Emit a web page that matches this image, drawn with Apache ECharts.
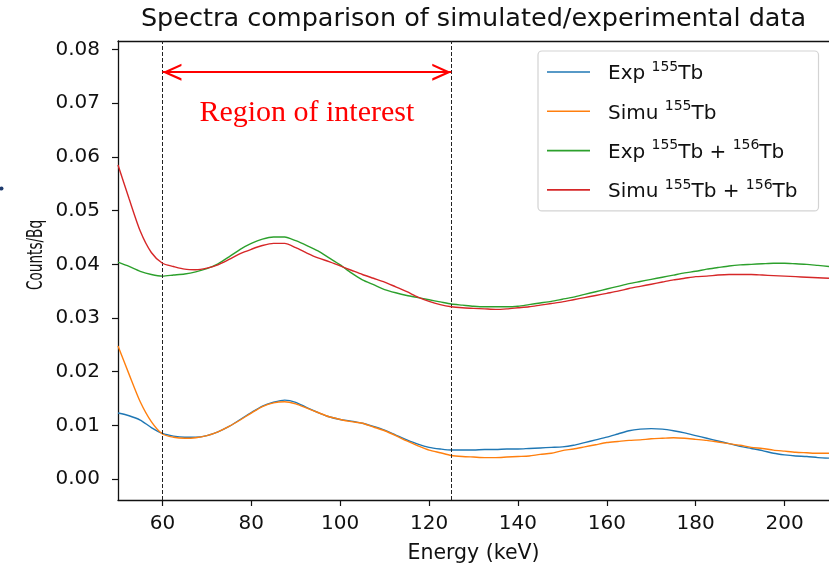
<!DOCTYPE html>
<html>
<head>
<meta charset="utf-8">
<script src="https://cdn.jsdelivr.net/npm/echarts@6/dist/echarts.min.js"></script>
<style>
  html, body { margin: 0; padding: 0; background: #ffffff; }
  #chart { width: 829px; height: 569px; }
</style>
</head>
<body>
<div id="chart"></div>
<script>
// Energy grid (keV) shared by all four spectra
const energy = [
  50, 52.5, 55, 57.5, 60, 62.5, 65, 67.5, 70, 72.5,
  75, 77.5, 80, 82.5, 85, 87.5, 90, 92.5, 95, 97.5,
  100, 102.5, 105, 107.5, 110, 112.5, 115, 117.5, 120, 122.5,
  125, 127.5, 130, 132.5, 135, 137.5, 140, 142.5, 145, 147.5,
  150, 152.5, 155, 157.5, 160, 162.5, 165, 167.5, 170, 172.5,
  175, 177.5, 180, 182.5, 185, 187.5, 190, 192.5, 195, 197.5,
  200, 202.5, 205, 207.5, 210
];

// Counts/Bq per spectrum
const expTb155 = [
  0.0123, 0.0118, 0.0110, 0.0096, 0.0085, 0.0080, 0.0078, 0.0078, 0.0081, 0.0088,
  0.0098, 0.0111, 0.0124, 0.0136, 0.0143, 0.0147, 0.0143, 0.0133, 0.0124, 0.0116,
  0.0111, 0.0108, 0.0104, 0.0098, 0.0091, 0.0082, 0.0073, 0.0065, 0.0059, 0.0056,
  0.0054, 0.0054, 0.0054, 0.0055, 0.0055, 0.0056, 0.0056, 0.0057, 0.0058, 0.0059,
  0.0060, 0.0063, 0.0068, 0.0073, 0.0078, 0.0084, 0.0090, 0.0093, 0.0094, 0.0093,
  0.0090, 0.0086, 0.0081, 0.0076, 0.0071, 0.0066, 0.0061, 0.0057, 0.0053, 0.0048,
  0.0045, 0.0043, 0.0042, 0.0040, 0.0039
];
const simuTb155 = [
  0.0248, 0.0195, 0.0144, 0.0107, 0.0084, 0.0078, 0.0076, 0.0077, 0.0081, 0.0088,
  0.0098, 0.0110, 0.0123, 0.0135, 0.0142, 0.0144, 0.0140, 0.0132, 0.0124, 0.0116,
  0.0111, 0.0107, 0.0104, 0.0097, 0.0090, 0.0081, 0.0071, 0.0062, 0.0054, 0.0049,
  0.0044, 0.0042, 0.0041, 0.0040, 0.0040, 0.0041, 0.0042, 0.0043, 0.0046, 0.0048,
  0.0053, 0.0056, 0.0060, 0.0064, 0.0068, 0.0070, 0.0072, 0.0073, 0.0075, 0.0076,
  0.0077, 0.0076, 0.0074, 0.0072, 0.0069, 0.0066, 0.0063, 0.0059, 0.0057, 0.0054,
  0.0052, 0.0050, 0.0049, 0.0048, 0.0048
];
const expTb155Tb156 = [
  0.0404, 0.0396, 0.0387, 0.0381, 0.0378, 0.0380, 0.0382, 0.0386, 0.0392, 0.0401,
  0.0414, 0.0428, 0.0439, 0.0447, 0.0451, 0.0451, 0.0444, 0.0435, 0.0425, 0.0412,
  0.0399, 0.0384, 0.0371, 0.0362, 0.0353, 0.0347, 0.0342, 0.0338, 0.0334, 0.0330,
  0.0326, 0.0324, 0.0322, 0.0321, 0.0321, 0.0321, 0.0322, 0.0325, 0.0328, 0.0331,
  0.0335, 0.0339, 0.0344, 0.0349, 0.0354, 0.0359, 0.0364, 0.0368, 0.0372, 0.0376,
  0.0380, 0.0384, 0.0387, 0.0391, 0.0394, 0.0397, 0.0399, 0.0400, 0.0401, 0.0402,
  0.0402, 0.0401, 0.0400, 0.0398, 0.0396
];
const simuTb155Tb156 = [
  0.0585, 0.0522, 0.0462, 0.0422, 0.0402, 0.0396, 0.0391, 0.0390, 0.0393, 0.0399,
  0.0409, 0.0420, 0.0428, 0.0435, 0.0439, 0.0439, 0.0431, 0.0421, 0.0412, 0.0405,
  0.0397, 0.0389, 0.0381, 0.0374, 0.0367, 0.0358, 0.0349, 0.0339, 0.0331, 0.0325,
  0.0321, 0.0319, 0.0318, 0.0317, 0.0316, 0.0317, 0.0319, 0.0321, 0.0324, 0.0327,
  0.0330, 0.0334, 0.0338, 0.0342, 0.0346, 0.0350, 0.0355, 0.0359, 0.0363, 0.0367,
  0.0371, 0.0374, 0.0377, 0.0378, 0.0380, 0.0381, 0.0381, 0.0381, 0.0380, 0.0379,
  0.0378, 0.0377, 0.0376, 0.0375, 0.0374
];

// Series names; "^nnn" marks a superscript mass number
const seriesNames = ['Exp ^155Tb', 'Simu ^155Tb', 'Exp ^155Tb + ^156Tb', 'Simu ^155Tb + ^156Tb'];

// Tick labels
const xTicks = [60, 80, 100, 120, 140, 160, 180, 200];
const yTicks = [0.00, 0.01, 0.02, 0.03, 0.04, 0.05, 0.06, 0.07, 0.08];

// Region of interest bounds (keV)
const roiBounds = [60, 125];

const FONT = 'DejaVu Sans';
const X_RANGE = [50, 210];
const Y_RANGE = [-0.0039, 0.0816];
const ARROW_LEVEL = 0.0758;
const ROI_TEXT_LEVEL = 0.0681;
const colors = ['#1f77b4', '#ff7f0e', '#2ca02c', '#d62728'];
const spectra = [expTb155, simuTb155, expTb155Tb156, simuTb155Tb156];

function richName(name) {
  return '{g| }{n|' + name.replace(/\^(\d+)/g, '}{s|$1}{n|') + '}';
}

const chart = echarts.init(document.getElementById('chart'), null, { renderer: 'canvas' });

const lineSeries = spectra.map((values, k) => ({
  type: 'line',
  name: seriesNames[k],
  data: energy.map((e, i) => [e, values[i]]),
  showSymbol: false,
  symbol: 'none',
  smooth: 0.25,
  lineStyle: { color: colors[k], width: 1.4 },
  itemStyle: { color: colors[k] },
  silent: true,
  z: 2 + k
}));

// open arrow head, tip at the top of the symbol box
const chevron = 'path://M50,0 L100,90 L86,90 L50,25 L14,90 L0,90 Z';

const option = {
  animation: false,
  backgroundColor: '#ffffff',
  title: {
    text: 'Spectra comparison of simulated/experimental data',
    left: 473.5,
    textAlign: 'center',
    top: 6,
    padding: 0,
    textStyle: { fontFamily: FONT, fontSize: 25.5, fontWeight: 'normal', color: '#111' }
  },
  grid: { left: 118, right: 0, top: 41, bottom: 66, containLabel: false },
  legend: {
    data: seriesNames.map((n, k) => ({ name: n, icon: 'rect', itemStyle: { color: colors[k] } })),
    orient: 'vertical',
    left: 538,
    top: 51,
    padding: [9, 21, 9, 9],
    itemWidth: 43,
    itemHeight: 1.6,
    itemGap: 15.3,
    selectedMode: false,
    backgroundColor: 'rgba(255,255,255,0.85)',
    borderColor: '#d3d3d3',
    borderWidth: 1.2,
    borderRadius: 4,
    formatter: richName,
    textStyle: {
      color: '#111',
      rich: {
        g: { width: 13, fontSize: 20, lineHeight: 24 },
        n: { fontFamily: FONT, fontSize: 20, lineHeight: 24, verticalAlign: 'bottom', color: '#111' },
        s: { fontFamily: FONT, fontSize: 14, lineHeight: 14, verticalAlign: 'top', color: '#111' }
      }
    }
  },
  xAxis: [{
    type: 'value',
    min: X_RANGE[0],
    max: X_RANGE[1],
    name: 'Energy (keV)',
    nameLocation: 'middle',
    nameGap: 43,
    nameTextStyle: { fontFamily: FONT, fontSize: 20.5, color: '#111' },
    axisLine: { show: true, onZero: false, lineStyle: { color: '#111', width: 1.3 } },
    axisTick: { show: true, length: 6, customValues: xTicks, lineStyle: { color: '#111', width: 1.2 } },
    axisLabel: { customValues: xTicks, margin: 14, fontFamily: FONT, fontSize: 20, color: '#111' },
    splitLine: { show: false }
  }, {
    type: 'value',
    position: 'top',
    min: X_RANGE[0],
    max: X_RANGE[1],
    axisLine: { show: true, onZero: false, lineStyle: { color: '#111', width: 1.3 } },
    axisTick: { show: false },
    axisLabel: { show: false },
    splitLine: { show: false }
  }],
  yAxis: {
    type: 'value',
    min: Y_RANGE[0],
    max: Y_RANGE[1],
    axisLine: { show: true, onZero: false, lineStyle: { color: '#111', width: 1.3 } },
    axisTick: { show: true, length: 6, customValues: yTicks, lineStyle: { color: '#111', width: 1.2 } },
    axisLabel: {
      customValues: yTicks,
      margin: 18,
      fontFamily: FONT,
      fontSize: 20,
      color: '#111',
      formatter: (v) => v.toFixed(2)
    },
    splitLine: { show: false }
  },
  graphic: [
    {
      type: 'text',
      x: 36,
      y: 255,
      rotation: Math.PI / 2,
      scaleX: 0.62,
      style: {
        text: 'Counts/Bq',
        fontFamily: FONT,
        fontSize: 22,
        fill: '#111',
        align: 'center',
        verticalAlign: 'middle'
      }
    },
    {
      type: 'circle',
      shape: { cx: 1.5, cy: 188.5, r: 2 },
      style: { fill: '#1f3b6e' }
    }
  ],
  series: lineSeries.concat([
    {
      type: 'line',
      name: 'roi-bounds',
      data: [],
      silent: true,
      z: 10,
      markLine: {
        silent: true,
        symbol: 'none',
        label: { show: false },
        lineStyle: { color: '#222', width: 1, type: [4, 2] },
        data: roiBounds.map((b) => ({ xAxis: b }))
      }
    },
    {
      type: 'line',
      name: 'roi-arrow',
      data: [],
      silent: true,
      z: 11,
      markLine: {
        silent: true,
        symbol: [chevron, chevron],
        symbolSize: [17, 19],
        symbolOffset: [[0, 9.5], [0, 9.5]],
        label: { show: false },
        lineStyle: { color: '#ff0000', width: 2, type: 'solid' },
        data: [[
          { coord: [roiBounds[0], ARROW_LEVEL] },
          { coord: [roiBounds[1], ARROW_LEVEL] }
        ]]
      },
      markPoint: {
        silent: true,
        symbol: 'circle',
        symbolSize: 0,
        label: {
          show: true,
          position: 'inside',
          formatter: 'Region of interest',
          fontFamily: 'Liberation Serif',
          fontSize: 30,
          color: '#ff0000'
        },
        data: [{ coord: [(roiBounds[0] + roiBounds[1]) / 2, ROI_TEXT_LEVEL] }]
      }
    }
  ])
};

chart.setOption(option);
</script>
</body>
</html>
